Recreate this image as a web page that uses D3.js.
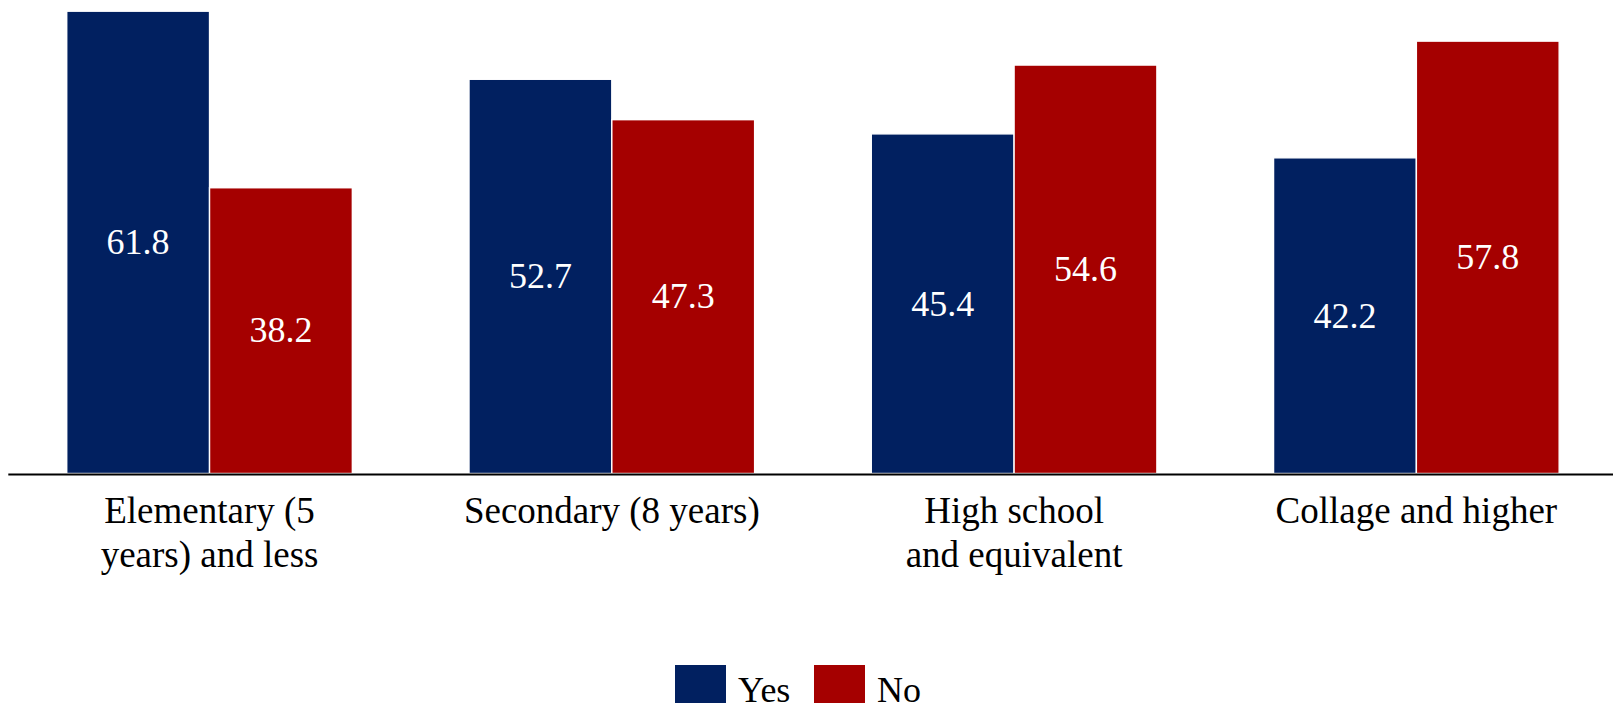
<!DOCTYPE html>
<html>
<head>
<meta charset="utf-8">
<script src="https://cdn.jsdelivr.net/npm/d3@7"></script>
<style>
  html, body { margin: 0; padding: 0; background: #fff; overflow: hidden; }
  svg { display: block; font-family: "Liberation Serif", "Times New Roman", serif; }
</style>
</head>
<body>
<svg id="chart" width="1613" height="703"></svg>
<script>
// Education level categories (label lines shown under the axis)
const categories = ["Elementary (5 years) and less", "Secondary (8 years)", "High school and equivalent", "Collage and higher"];
const categoryLines = [
  ["Elementary (5", "years) and less"],
  ["Secondary (8 years)"],
  ["High school", "and equivalent"],
  ["Collage and higher"]
];
const seriesNames = ["Yes", "No"];
const yesValues = [61.8, 52.7, 45.4, 42.2];
const noValues = [38.2, 47.3, 54.6, 57.8];
const colors = ["#012060", "#a50000"];

const rows = categories.map((c, i) => ({ category: c, values: [yesValues[i], noValues[i]] }));

const svg = d3.select("#chart");
const baseY = 473.5;
const serif = "'Liberation Serif', 'Times New Roman', serif";

const x0 = d3.scaleBand()
  .domain(categories)
  .range([8.4, 1617.5])
  .paddingInner(0.29)
  .paddingOuter(0.145);

const x1 = d3.scaleBand()
  .domain(seriesNames)
  .range([0, x0.bandwidth()])
  .padding(0);

const y = d3.scaleLinear()
  .domain([0, 62])
  .range([baseY, 9.7]);

const color = d3.scaleOrdinal().domain(seriesNames).range(colors);

// Bars
const groups = svg.append("g")
  .selectAll("g")
  .data(rows)
  .join("g")
  .attr("transform", d => `translate(${x0(d.category)},0)`);

const cells = groups.selectAll("g")
  .data(d => d.values.map((v, j) => ({ key: seriesNames[j], value: v })))
  .join("g");

cells.append("rect")
  .attr("x", d => x1(d.key))
  .attr("y", d => y(d.value))
  .attr("width", x1.bandwidth())
  .attr("height", d => y(0) - y(d.value))
  .attr("fill", d => color(d.key))
  .attr("stroke", "#ffffff")
  .attr("stroke-width", 1.4);

// Value labels centred inside each bar
cells.append("text")
  .attr("x", d => x1(d.key) + x1.bandwidth() / 2)
  .attr("y", d => (y(d.value) + y(0)) / 2)
  .attr("dy", "0.33em")
  .attr("text-anchor", "middle")
  .attr("fill", "#ffffff")
  .attr("font-family", serif)
  .attr("font-size", 36)
  .text(d => d.value.toFixed(1));

// Category axis
const axis = svg.append("g")
  .attr("transform", `translate(0,${baseY + 1})`)
  .call(d3.axisBottom(x0).tickSize(0).tickSizeOuter(0));

axis.attr("font-family", serif);

axis.select(".domain")
  .attr("stroke", "#000")
  .attr("stroke-width", 2.2)
  .attr("d", "M8.3,0H1613");

axis.selectAll(".tick text")
  .attr("font-family", serif)
  .attr("font-size", 37)
  .attr("fill", "#000")
  .attr("y", 0)
  .attr("dy", null)
  .text(null)
  .each(function (d) {
    const lines = categoryLines[categories.indexOf(d)];
    const t = d3.select(this);
    lines.forEach((line, k) => {
      t.append("tspan")
        .attr("x", 0)
        .attr("y", 48.5 + k * 44)
        .text(line);
    });
  });

// Legend
const legend = svg.append("g");
const legendX = [675, 814];
seriesNames.forEach((name, i) => {
  legend.append("rect")
    .attr("x", legendX[i])
    .attr("y", 665)
    .attr("width", 51)
    .attr("height", 51)
    .attr("fill", color(name));
  legend.append("text")
    .attr("x", legendX[i] + 63)
    .attr("y", 701.5)
    .attr("font-family", serif)
    .attr("font-size", 36)
    .attr("fill", "#000")
    .text(name);
});
</script>
</body>
</html>
